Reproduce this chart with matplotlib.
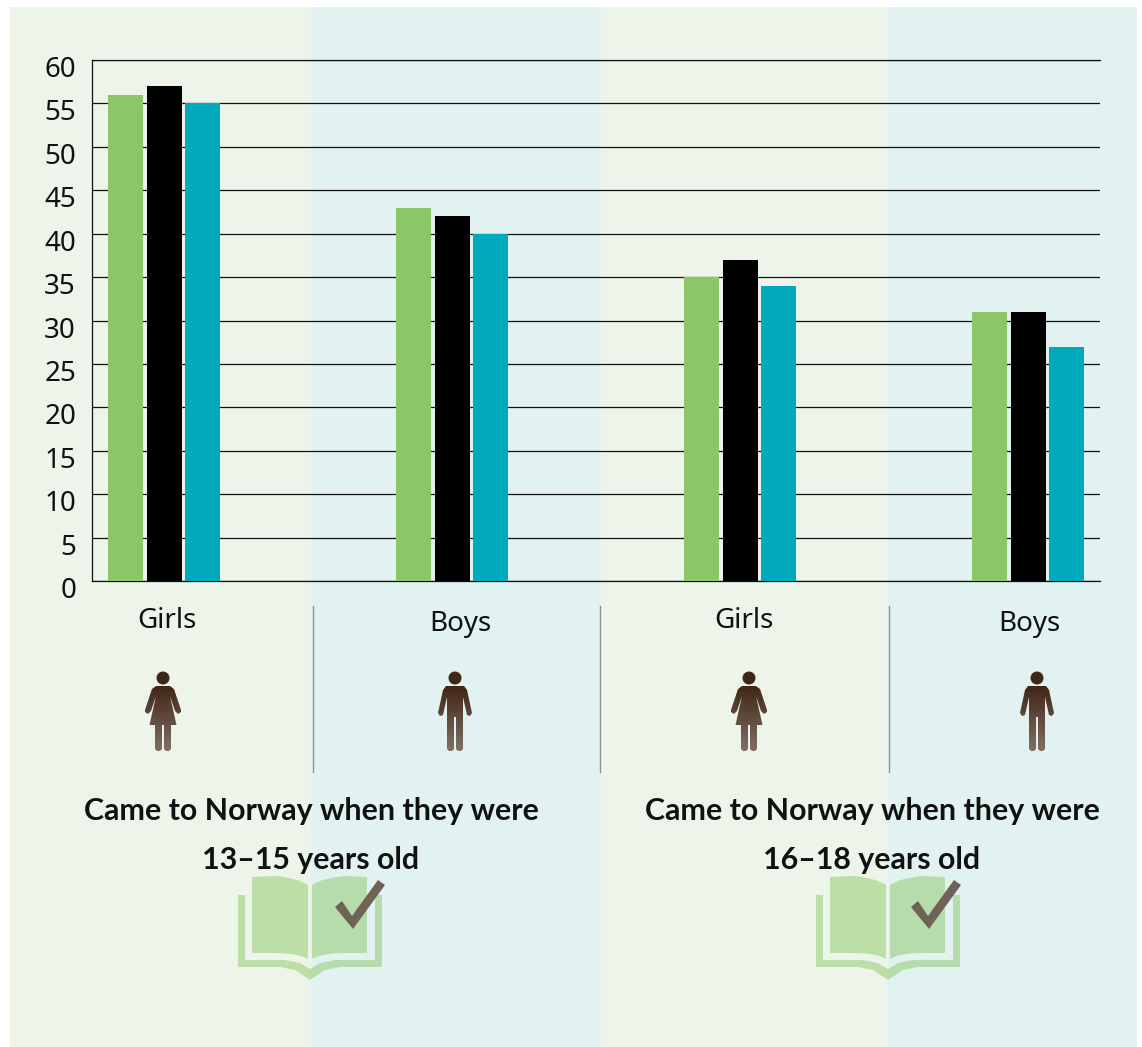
import matplotlib
matplotlib.use("Agg")
import matplotlib.pyplot as plt
import numpy as np
from matplotlib.patches import Polygon, Circle, Rectangle, PathPatch
from matplotlib.path import Path
from matplotlib.transforms import ScaledTranslation, Affine2D

plt.rcParams['font.family'] = ['Noto Sans', 'DejaVu Sans']

W, H = 1142, 1047
groups = ["Girls", "Boys", "Girls", "Boys"]
series_a = [56, 43, 35, 31]
series_b = [57, 42, 37, 31]
series_c = [55, 40, 34, 27]
colors = ["#8bc766", "#000000", "#00a9bb"]
yticks = list(range(0, 65, 5))
headings = ["Came to Norway when they were\n13\u201315 years old",
            "Came to Norway when they were\n16\u201318 years old"]

fig = plt.figure(figsize=(W/100, H/100), dpi=100, facecolor="white")

bg = fig.add_axes([0, 0, 1, 1], zorder=0)
bg.set_xlim(0, W); bg.set_ylim(H, 0); bg.axis("off")
for x0, x1, c in [(10, 310.5, "#edf5ea"), (310.5, 601, "#e2f2f1"),
                  (601, 888, "#edf5ea"), (888, 1137, "#e2f2f1")]:
    bg.add_patch(Rectangle((x0, 7), x1-x0, 1040, fc=c, ec="none"))

ax = fig.add_axes([92/W, 1-581/H, (1100-92)/W, (581-60)/H], zorder=2)
ax.patch.set_alpha(0)
x = np.arange(4)
bw, off = 35/288, 38.5/288
ax.set_axisbelow(True)
for i, (vals, c) in enumerate(zip([series_a, series_b, series_c], colors)):
    ax.bar(x + (i-1)*off, vals, bw, color=c, zorder=3)
ax.set_xlim(-0.25, 3.25); ax.set_ylim(0, 60)
ax.set_yticks(yticks)
ax.set_yticklabels([str(v) for v in yticks], fontsize=20, color="#111111")
ax.tick_params(axis="y", length=0, pad=11.5)
ax.set_xticks([])
ax.yaxis.grid(True, color="#111111", lw=0.9)
ax.spines["right"].set_visible(False)
for s in ["left", "bottom", "top"]:
    ax.spines[s].set_linewidth(0.9); ax.spines[s].set_color("#111111")
shift = ScaledTranslation(0, -6.5/100, fig.dpi_scale_trans)
for lab in ax.get_yticklabels():
    lab.set_transform(lab.get_transform() + shift)

ov = fig.add_axes([0, 0, 1, 1], zorder=3)
ov.set_xlim(0, W); ov.set_ylim(H, 0); ov.axis("off"); ov.patch.set_alpha(0)

for xd in [313, 600, 889]:
    ov.plot([xd, xd], [606, 772], color="#8a9296", lw=1.0)

for name, xt, yt in zip(groups, [167, 460, 744, 1029], [620.5, 623.5, 620.5, 623.5]):
    ov.text(xt, yt, name, ha="center", va="center", fontsize=20, color="#111111")

for txt, xc in zip(headings, [311, 872]):
    l1, l2 = txt.split("\n")
    for line, yy in ((l1, 811), (l2, 860.5)):
        ov.text(xc, yy, line, ha="center", va="center", fontsize=21.9,
                fontweight="bold", family=["Lato", "DejaVu Sans"], color="#111111")

grad = np.linspace(0, 1, 100)[:, None]
c0 = np.array([0x40, 0x26, 0x16])/255; c1 = np.array([0x80, 0x70, 0x65])/255
img = (c0[None, None, :]*(1-grad[..., None]) + c1[None, None, :]*grad[..., None])


def person(cx, female):
    if female:
        pts = [(-7, 686), (7, 686), (11, 689), (18, 710), (18, 712), (15, 714), (12, 711),
               (7, 696), (13.5, 725), (8, 725), (8, 749), (6, 751), (3, 751), (1, 749), (1, 725),
               (-1, 725), (-1, 749), (-3, 751), (-6, 751), (-8, 749), (-8, 725), (-13.5, 725),
               (-7, 696), (-12, 711), (-15, 714), (-18, 712), (-18, 710), (-11, 689)]
    else:
        pts = [(-9, 686), (9, 686), (12, 690), (17, 713), (15, 716), (12, 715), (8, 697),
               (8, 749), (6, 751), (3, 751), (1, 749), (1, 717), (-1, 717), (-1, 749),
               (-3, 751), (-6, 751), (-8, 749), (-8, 697), (-12, 715), (-15, 716), (-17, 713), (-12, 690)]
    poly = Polygon([(cx+a, b) for a, b in pts], closed=True, transform=ov.transData, fc="none", ec="none")
    ov.add_patch(poly)
    im = ov.imshow(img, extent=(cx-20, cx+20, 751, 686), aspect="auto", zorder=2)
    im.set_clip_path(poly)
    ov.add_patch(Circle((cx, 678), 6.5, fc="#402616", ec="none", zorder=3))


for cx, fem in zip([163, 455, 749, 1037], [True, False, True, False]):
    person(cx, fem)
ov.set_xlim(0, W); ov.set_ylim(H, 0)


def book(dx):
    g = dict(fc="#8cc866", ec="none", alpha=0.5)
    L = Path([(252, 877), (275, 876), (298, 878), (308, 885), (308, 959), (298, 953), (275, 953), (252, 953), (252, 877)],
             [1, 2, 3, 3, 2, 3, 3, 2, 2])
    R = Path([(367, 877), (345, 876), (322, 878), (312, 885), (312, 959), (322, 953), (345, 953), (367, 953), (367, 877)],
             [1, 2, 3, 3, 2, 3, 3, 2, 2])
    for p in (L, R):
        ov.add_patch(PathPatch(p.transformed(Affine2D().translate(dx, 0)), **g))
    outer = [(238, 895), (245, 895), (245, 960), (285, 960), (300, 963), (310, 969), (320, 963), (335, 960),
             (375, 960), (375, 895), (382, 895), (382, 967), (340, 967), (325, 970), (310, 980), (295, 970), (280, 967), (238, 967)]
    ov.add_patch(Polygon([(a+dx, b) for a, b in outer], closed=True, **g))
    check = [(335, 907), (342, 901), (352, 916), (378, 880), (385, 885), (353, 929)]
    ov.add_patch(Polygon([(a+dx-(0 if dx == 0 else 2), b) for a, b in check], closed=True, fc="#6f6357", ec="none"))


book(0)
book(578)

fig.savefig("out.png", dpi=100, facecolor="white")
